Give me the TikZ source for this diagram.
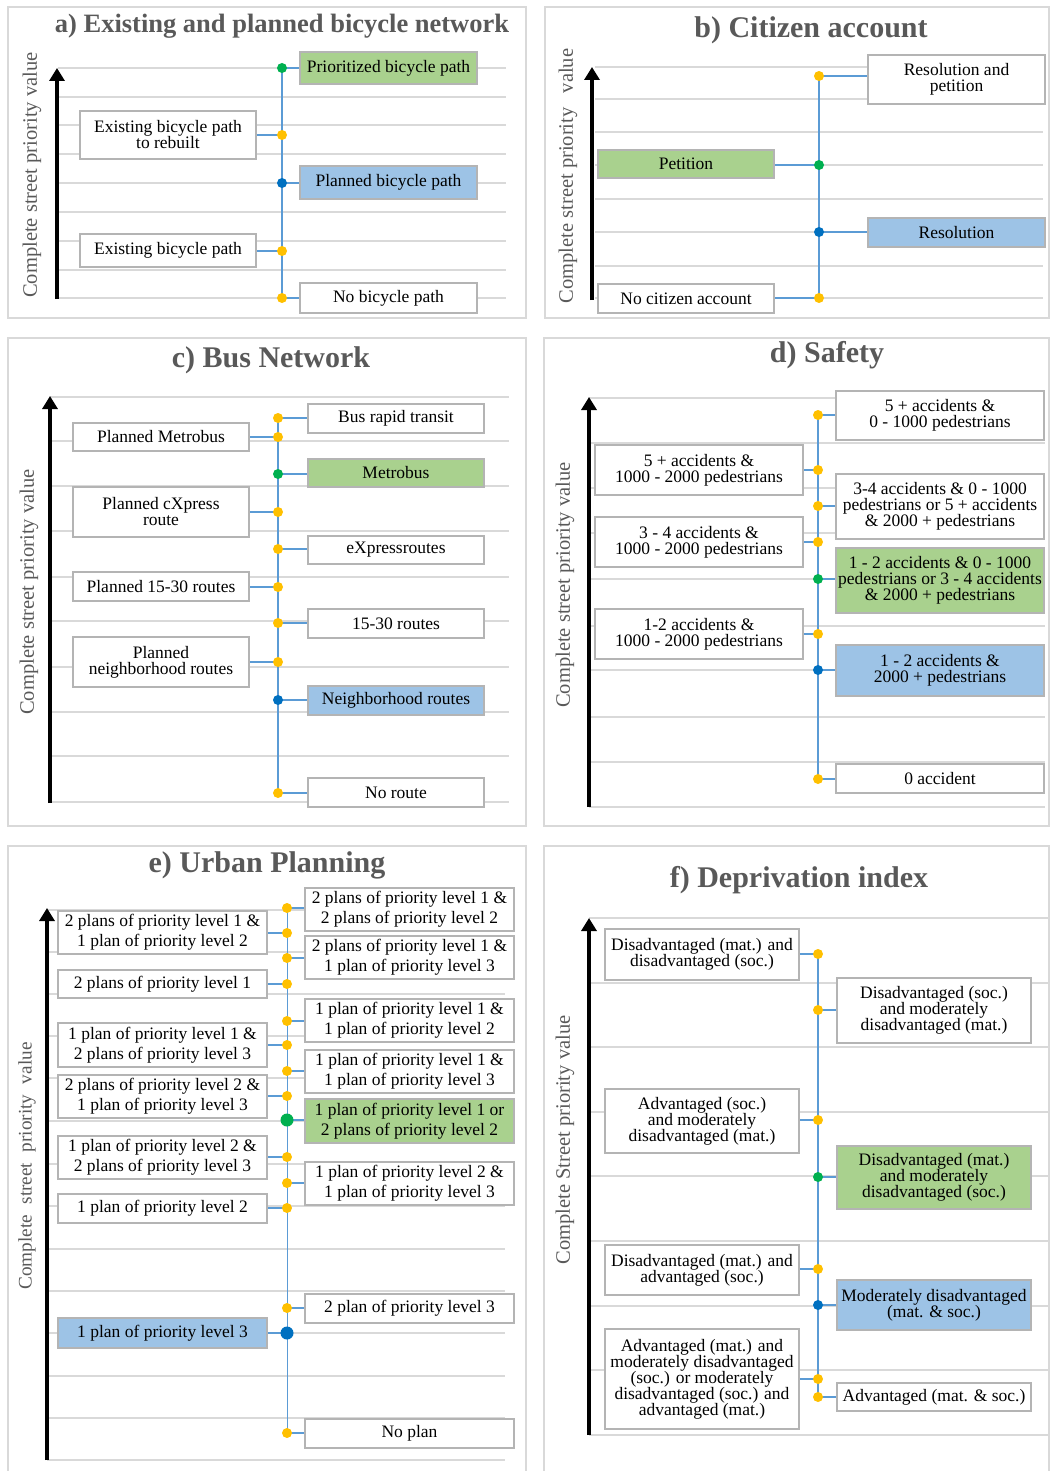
\documentclass[tikz,border=0pt]{standalone}
\usepackage{fontspec}
\setmainfont{Liberation Serif}
\usetikzlibrary{arrows.meta}

\definecolor{gridc}{HTML}{D9D9D9}
\definecolor{framec}{HTML}{D9D9D9}
\definecolor{boxc}{HTML}{B4B4B4}
\definecolor{connc}{HTML}{5B9BD5}
\definecolor{dotY}{HTML}{FFC000}
\definecolor{dotG}{HTML}{00B050}
\definecolor{dotB}{HTML}{0070C0}
\definecolor{fillG}{HTML}{A9D18E}
\definecolor{fillB}{HTML}{9DC3E6}
\definecolor{titlec}{HTML}{595959}

\newcommand\boxfont{\fontsize{8.75pt}{8pt}\selectfont\lineskiplimit=-6pt}
\newcommand\boxfonte{\fontsize{8.75pt}{10pt}\selectfont\lineskiplimit=-6pt}

% box given by its corners: name, x1, y1, x2, y2, extra style, text
\newcommand\cbox[7]{%
  \node[cbx,#6,minimum width={(#4-#2)*0.5pt},minimum height={(#5-#3)*0.5pt}]
    (#1) at ({(#2+#4)/2},{(#3+#5)/2}) {#7};}
% horizontal stub from a dot to the west / east side of a box
\newcommand\tow[2]{\draw[conn] (#1) -- (#1 -| #2.west);}
\newcommand\toe[2]{\draw[conn] (#1) -- (#1 -| #2.east);}

\begin{document}
\begin{tikzpicture}[x=0.5pt,y=-0.5pt,
  frm/.style={draw=framec,line width=1pt},
  gridl/.style={draw=gridc,line width=1.2pt},
  axisl/.style={line width=1.75pt,-{Triangle[width=7.5pt,length=6.5pt]}},
  conn/.style={draw=connc,line width=1.3pt},
  thinconn/.style={draw=connc,line width=0.5pt},
  cbx/.style={draw=boxc,line width=1.25pt,fill=white,align=center,
    inner sep=0.5pt,font=\boxfont,text=black},
  cbxe/.style={cbx,font=\boxfonte},
  ttl/.style={text=titlec,font=\fontsize{15pt}{15pt}\selectfont\bfseries},
  ylab/.style={text=titlec,rotate=90,font=\fontsize{10.25pt}{10.25pt}\selectfont},
  yd/.style={fill=dotY},
  gd/.style={fill=dotG},
  bd/.style={fill=dotB}]
\useasboundingbox (0,0) rectangle (1050,1471);
\fill[white] (0,0) rectangle (1050,1471);

% ---------- frames ----------
\draw[frm] (8,7) rectangle (526,318);
\draw[frm] (545,7) rectangle (1049,318);
\draw[frm] (8,338) rectangle (526,826);
\draw[frm] (544,338) rectangle (1049,826);
\draw[frm] (8,846) rectangle (526,1474);
\draw[frm] (544,846) rectangle (1049,1474);

% ---------- grid lines ----------
\foreach \yy in {68,97,125,154,183,212,241,270,298}
  \draw[gridl] (58,\yy) -- (506,\yy);
\foreach \yy in {67,99,132,165,199,232,266,298}
  \draw[gridl] (595,\yy) -- (1043,\yy);
\foreach \yy in {397,441,486,531,577,621,667,712,756,802}
  \draw[gridl] (50,\yy) -- (509,\yy);
\foreach \yy in {398,443,488,533,579,626,670,717,762,807}
  \draw[gridl] (589,\yy) -- (1045,\yy);
\foreach \yy in {910,952,994,1036,1078,1121,1164,1206,1249,1291,1333,1376,1418,1460}
  \draw[gridl] (47,\yy) -- (505,\yy);
\foreach \yy in {918,983,1047,1112,1176,1241,1306,1370,1435}
  \draw[gridl] (589,\yy) -- (1048,\yy);

% ---------- axes ----------
\draw[axisl] (57,299) -- (57,68);
\draw[axisl] (592,300) -- (592,67);
\draw[axisl] (50,803) -- (50,396);
\draw[axisl] (589,807) -- (589,397);
\draw[axisl] (47,1460) -- (47,908);
\draw[axisl] (589,1435) -- (589,918);

% ---------- titles and axis labels ----------
\node[ttl,font=\fontsize{13.25pt}{13.25pt}\selectfont\bfseries] (ta) at (282,26) {a) Existing and planned bicycle network};
\node[ttl] (tb) at (811,30) {b) Citizen account};
\node[ttl] (tc) at (271,360) {c) Bus Network};
\node[ttl] (td) at (827,355) {d) Safety};
\node[ttl] (te) at (267,865) {e) Urban Planning};
\node[ttl] (tf) at (799,880) {f) Deprivation index};

\node[ylab] (ya) at (32,175) {Complete street priority value};
\node[ylab] (yb) at (568,176) {Complete street priority\hspace{0.45em} value};
\node[ylab] (yc) at (29,592) {Complete street priority value};
\node[ylab] (yd) at (565,585) {Complete street priority value};
\node[ylab,font=\fontsize{9.6pt}{9.6pt}\selectfont] (ye) at (27,1166) {Complete\hspace{0.3em} street\hspace{0.3em} priority\hspace{0.3em} value};
\node[ylab] (yf) at (565,1140) {Complete Street priority value};

% ================= a) bicycle network =================
\coordinate (a1) at (282,68);
\coordinate (a2) at (282,135);
\coordinate (a3) at (282,183);
\coordinate (a4) at (282,251);
\coordinate (a5) at (282,298);
\cbox{ab1}{300}{52}{477}{84}{fill=fillG}{Prioritized bicycle path}
\cbox{ab2}{80}{111}{256}{159}{}{Existing bicycle path\\to rebuilt}
\cbox{ab3}{300}{166}{477}{199}{fill=fillB}{Planned bicycle path}
\cbox{ab4}{80}{234}{256}{267}{}{Existing bicycle path}
\cbox{ab5}{300}{283}{477}{313}{}{No bicycle path}
\draw[conn] (a1) -- (a5);
\tow{a1}{ab1} \toe{a2}{ab2} \tow{a3}{ab3} \toe{a4}{ab4} \tow{a5}{ab5}
\fill[gd] (a1) circle[radius=5];
\fill[yd] (a2) circle[radius=5];
\fill[bd] (a3) circle[radius=5];
\fill[yd] (a4) circle[radius=5];
\fill[yd] (a5) circle[radius=5];

% ================= b) citizen account =================
\coordinate (b1) at (819,76);
\coordinate (b2) at (819,165);
\coordinate (b3) at (819,232);
\coordinate (b4) at (819,298);
\cbox{bb1}{868}{55}{1045}{104}{}{Resolution and\\petition}
\cbox{bb2}{598}{150}{774}{178}{fill=fillG}{Petition}
\cbox{bb3}{868}{218}{1045}{247}{fill=fillB}{Resolution}
\cbox{bb4}{598}{284}{774}{313}{}{No citizen account}
\draw[conn] (b1) -- (b4);
\tow{b1}{bb1} \toe{b2}{bb2} \tow{b3}{bb3} \toe{b4}{bb4}
\fill[yd] (b1) circle[radius=5];
\fill[gd] (b2) circle[radius=5];
\fill[bd] (b3) circle[radius=5];
\fill[yd] (b4) circle[radius=5];

% ================= c) bus network =================
\coordinate (c1) at (278,418);
\coordinate (c2) at (278,437);
\coordinate (c3) at (278,474);
\coordinate (c4) at (278,512);
\coordinate (c5) at (278,549);
\coordinate (c6) at (278,587);
\coordinate (c7) at (278,623);
\coordinate (c8) at (278,662);
\coordinate (c9) at (278,700);
\coordinate (c10) at (278,793);
\cbox{cb1}{308}{404}{484}{433}{}{Bus rapid transit}
\cbox{cb2}{73}{423}{249}{451}{}{Planned Metrobus}
\cbox{cb3}{308}{459}{484}{487}{fill=fillG}{Metrobus}
\cbox{cb4}{73}{487}{249}{537}{}{Planned cXpress\\route}
\cbox{cb5}{308}{536}{484}{564}{}{eXpressroutes}
\cbox{cb6}{73}{572}{249}{601}{}{Planned 15-30 routes}
\cbox{cb7}{308}{609}{484}{638}{}{15-30 routes}
\cbox{cb8}{73}{637}{249}{687}{}{Planned\\neighborhood routes}
\cbox{cb9}{308}{686}{484}{715}{fill=fillB}{Neighborhood routes}
\cbox{cb10}{308}{778}{484}{807}{}{No route}
\draw[conn] (c1) -- (c10);
\tow{c1}{cb1} \toe{c2}{cb2} \tow{c3}{cb3} \toe{c4}{cb4} \tow{c5}{cb5}
\toe{c6}{cb6} \tow{c7}{cb7} \toe{c8}{cb8} \tow{c9}{cb9} \tow{c10}{cb10}
\foreach \p in {c1,c2,c4,c5,c6,c7,c8,c10} \fill[yd] (\p) circle[radius=5];
\fill[gd] (c3) circle[radius=5];
\fill[bd] (c9) circle[radius=5];

% ================= d) safety =================
\coordinate (d1) at (818,415);
\coordinate (d2) at (818,470);
\coordinate (d3) at (818,506);
\coordinate (d4) at (818,542);
\coordinate (d5) at (818,579);
\coordinate (d6) at (818,634);
\coordinate (d7) at (818,670);
\coordinate (d8) at (818,779);
\cbox{db1}{836}{391}{1044}{440}{}{5 + accidents \&\\0 - 1000 pedestrians}
\cbox{db2}{595}{445}{803}{495}{}{5 + accidents \&\\1000 - 2000 pedestrians}
\cbox{db3}{836}{474}{1044}{539}{}{3-4 accidents \& 0 - 1000\\pedestrians or 5 + accidents\\\& 2000 + pedestrians}
\cbox{db4}{595}{517}{803}{567}{}{3 - 4 accidents \&\\1000 - 2000 pedestrians}
\cbox{db5}{836}{548}{1044}{613}{fill=fillG}{1 - 2 accidents \& 0 - 1000\\pedestrians or 3 - 4 accidents\\\& 2000 + pedestrians}
\cbox{db6}{595}{609}{803}{659}{}{1-2 accidents \&\\1000 - 2000 pedestrians}
\cbox{db7}{836}{645}{1044}{696}{fill=fillB}{1 - 2 accidents \&\\2000 + pedestrians}
\cbox{db8}{836}{764}{1044}{793}{}{0 accident}
\draw[conn] (d1) -- (d8);
\tow{d1}{db1} \toe{d2}{db2} \tow{d3}{db3} \toe{d4}{db4}
\tow{d5}{db5} \toe{d6}{db6} \tow{d7}{db7} \tow{d8}{db8}
\foreach \p in {d1,d2,d3,d4,d6,d8} \fill[yd] (\p) circle[radius=5];
\fill[gd] (d5) circle[radius=5];
\fill[bd] (d7) circle[radius=5];

% ================= e) urban planning =================
\coordinate (e1) at (287,908);
\coordinate (e2) at (287,933);
\coordinate (e3) at (287,958);
\coordinate (e4) at (287,984);
\coordinate (e5) at (287,1021);
\coordinate (e6) at (287,1045);
\coordinate (e7) at (287,1071);
\coordinate (e8) at (287,1096);
\coordinate (e9) at (287,1120);
\coordinate (e10) at (287,1157);
\coordinate (e11) at (287,1183);
\coordinate (e12) at (287,1208);
\coordinate (e13) at (287,1308);
\coordinate (e14) at (287,1333);
\coordinate (e15) at (287,1433);
\cbox{er1}{305}{888}{514}{931}{cbxe}{2 plans of priority level 1 \&\\2 plans of priority level 2}
\cbox{el1}{58}{911}{267}{954}{cbxe}{2 plans of priority level 1 \&\\1 plan of priority level 2}
\cbox{er2}{305}{936}{514}{979}{cbxe}{2 plans of priority level 1 \&\\1 plan of priority level 3}
\cbox{el2}{58}{970}{267}{998}{cbxe}{2 plans of priority level 1}
\cbox{er3}{305}{999}{514}{1042}{cbxe}{1 plan of priority level 1 \&\\1 plan of priority level 2}
\cbox{el3}{58}{1023}{267}{1067}{cbxe}{1 plan of priority level 1 \&\\2 plans of priority level 3}
\cbox{er4}{305}{1050}{514}{1093}{cbxe}{1 plan of priority level 1 \&\\1 plan of priority level 3}
\cbox{el4}{58}{1075}{267}{1118}{cbxe}{2 plans of priority level 2 \&\\1 plan of priority level 3}
\cbox{er5}{305}{1099}{514}{1143}{cbxe,fill=fillG}{1 plan of priority level 1 or\\2 plans of priority level 2}
\cbox{el5}{58}{1136}{267}{1179}{cbxe}{1 plan of priority level 2 \&\\2 plans of priority level 3}
\cbox{er6}{305}{1162}{514}{1205}{cbxe}{1 plan of priority level 2 \&\\1 plan of priority level 3}
\cbox{el6}{58}{1194}{267}{1223}{cbxe}{1 plan of priority level 2}
\cbox{er7}{305}{1294}{514}{1323}{cbxe}{2 plan of priority level 3}
\cbox{el7}{58}{1318}{267}{1348}{cbxe,fill=fillB}{1 plan of priority level 3}
\cbox{er8}{305}{1419}{514}{1448}{cbxe}{No plan}
\draw[thinconn] (e1) -- (e15);
\tow{e1}{er1} \toe{e2}{el1} \tow{e3}{er2} \toe{e4}{el2} \tow{e5}{er3}
\toe{e6}{el3} \tow{e7}{er4} \toe{e8}{el4} \tow{e9}{er5} \toe{e10}{el5}
\tow{e11}{er6} \toe{e12}{el6} \tow{e13}{er7} \toe{e14}{el7} \tow{e15}{er8}
\foreach \p in {e1,e2,e3,e4,e5,e6,e7,e8,e10,e11,e12,e13,e15} \fill[yd] (\p) circle[radius=5];
\fill[gd] (e9) circle[radius=6.5];
\fill[bd] (e14) circle[radius=6.5];

% ================= f) deprivation index =================
\coordinate (f1) at (818,954);
\coordinate (f2) at (818,1010);
\coordinate (f3) at (818,1120);
\coordinate (f4) at (818,1177);
\coordinate (f5) at (818,1269);
\coordinate (f6) at (818,1305);
\coordinate (f7) at (818,1379);
\coordinate (f8) at (818,1397);
\cbox{fb1}{605}{929}{799}{980}{}{Disadvantaged (mat.) and\\disadvantaged (soc.)}
\cbox{fb2}{837}{978}{1031}{1043}{}{Disadvantaged (soc.)\\and moderately\\disadvantaged (mat.)}
\cbox{fb3}{605}{1089}{799}{1153}{}{Advantaged (soc.)\\and moderately\\disadvantaged (mat.)}
\cbox{fb4}{837}{1146}{1031}{1209}{fill=fillG}{Disadvantaged (mat.)\\and moderately\\disadvantaged (soc.)}
\cbox{fb5}{605}{1245}{799}{1295}{}{Disadvantaged (mat.) and\\advantaged (soc.)}
\cbox{fb6}{837}{1280}{1031}{1330}{fill=fillB}{Moderately disadvantaged\\(mat. \& soc.)}
\cbox{fb7}{605}{1329}{799}{1429}{}{Advantaged (mat.) and\\moderately disadvantaged\\(soc.) or moderately\\disadvantaged (soc.) and\\advantaged (mat.)}
\cbox{fb8}{837}{1383}{1031}{1411}{}{Advantaged (mat. \& soc.)}
\draw[conn] (f1) -- (f8);
\toe{f1}{fb1} \tow{f2}{fb2} \toe{f3}{fb3} \tow{f4}{fb4}
\toe{f5}{fb5} \tow{f6}{fb6} \toe{f7}{fb7} \tow{f8}{fb8}
\foreach \p in {f1,f2,f3,f5,f7,f8} \fill[yd] (\p) circle[radius=5];
\fill[gd] (f4) circle[radius=5];
\fill[bd] (f6) circle[radius=5];
\end{tikzpicture}
\end{document}
